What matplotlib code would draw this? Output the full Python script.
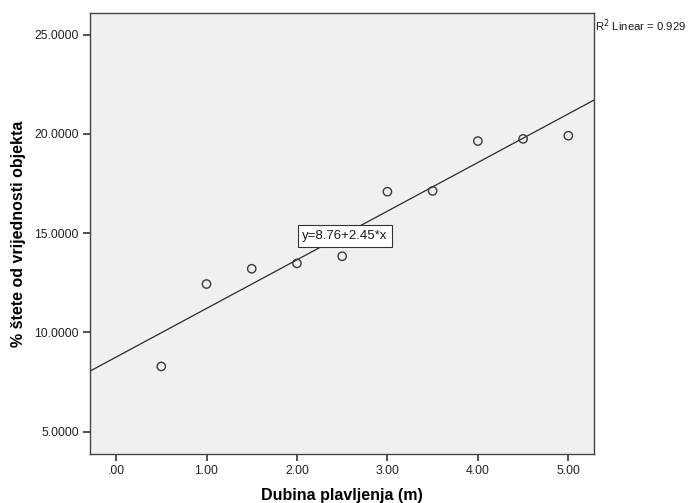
import matplotlib
matplotlib.use('Agg')
import matplotlib.pyplot as plt
import numpy as np

plt.rcParams['font.family'] = ['Liberation Sans', 'DejaVu Sans']

# depth (m) vs % damage
dubina = [0.5, 1.0, 1.5, 2.0, 2.5, 3.0, 3.5, 4.0, 4.5, 5.0]
steta = [8.29, 12.44, 13.21, 13.48, 13.84, 17.09, 17.13, 19.64, 19.75, 19.91]
fit_a, fit_b = 8.76, 2.45
r2 = 0.929
x_ticks = [0, 1, 2, 3, 4, 5]
y_ticks = [5, 10, 15, 20, 25]

fig = plt.figure(figsize=(6.89, 5.03), dpi=100)
ax = fig.add_axes([90/689, 49/503, 504/689, 441/503])
ax.set_facecolor('#f0f0f0')

ax.set_xlim(-0.288, 5.284)
ax.set_ylim(3.88, 26.09)

xx = np.array(ax.get_xlim())
ax.plot(xx, fit_a + fit_b*xx, color='#2a2a2a', lw=0.9, zorder=2)
ax.scatter(dubina, steta, s=36, facecolors='none', edgecolors='#3a3a3a', linewidths=1.0, zorder=3)

ax.text(2.06, 14.86, 'y=8.76+2.45*x', fontsize=9.5, va='center', ha='left', color='#1a1a1a',
        bbox=dict(boxstyle='square,pad=0.35', fc='white', ec='#333333', lw=0.8), zorder=4)

ax.set_xticks(x_ticks)
ax.set_xticklabels(['.00' if t == 0 else '%.2f' % t for t in x_ticks])
ax.set_yticks(y_ticks)
ax.set_yticklabels(['%.4f' % t for t in y_ticks])
ax.tick_params(direction='out', length=5, width=1.2, color='#333333', labelsize=8.7,
               labelcolor='#222222', top=False, right=False, pad=3)
for s in ax.spines.values():
    s.set_color('#444444')
    s.set_linewidth(1.0)

ax.set_xlabel('Dubina plavljenja (m)', fontsize=11.5, fontweight='bold', labelpad=8)
ax.set_ylabel('% štete od vrijednosti objekta', fontsize=11.5, fontweight='bold', labelpad=6)

fig.text(595/689, 1 - 26/503, 'R$^2$ Linear = %.3f' % r2, fontsize=8.2, ha='left', va='center',
         color='#1a1a1a')

fig.savefig('out.png', dpi=100)
